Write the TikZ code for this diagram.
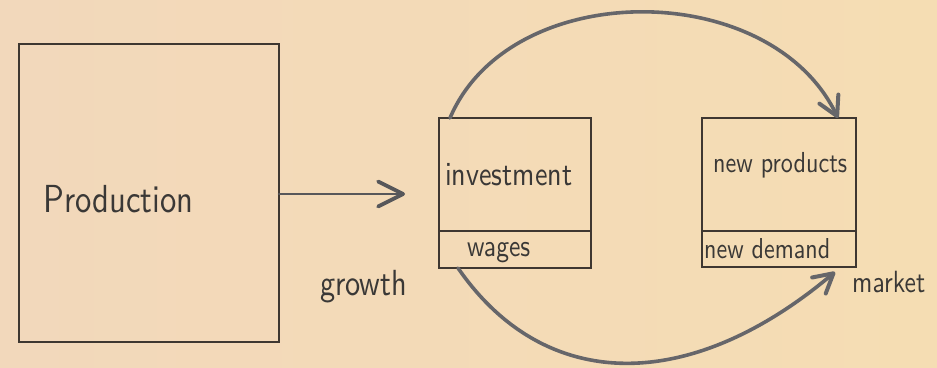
\documentclass[tikz,border=0pt]{standalone}
\usetikzlibrary{arrows.meta}
\definecolor{paperL}{HTML}{F2D8BB}
\definecolor{paperR}{HTML}{F5DDB3}
\definecolor{boxline}{HTML}{3E3731}
\definecolor{arcgray}{HTML}{66666A}
\definecolor{ink}{HTML}{3A3836}
\newcommand{\fitw}[2]{\resizebox{#1}{!}{\scalebox{1}[1.2]{\sffamily #2}}}
\begin{document}
\begin{tikzpicture}[x=1pt,y=-1pt,
  boxstyle/.style={draw=boxline,line width=1.2pt,rectangle,inner sep=0pt,outer sep=0pt},
  lbl/.style={anchor=base west,inner sep=0pt,text=ink},
  arcarrow/.style={draw=arcgray,line width=3.6pt,line cap=round,
    -{Straight Barb[length=19pt,width=21pt,line width=4pt,round]}},
  midarrow/.style={draw=arcgray!85!black,line width=2.6pt,line cap=round,
    -{Straight Barb[length=25pt,width=25pt,line width=3.8pt,round]}}
]
\useasboundingbox (0,0) rectangle (937,367);
\fill[left color=paperL,right color=paperR] (0,0) rectangle (937,367);

% boxes
\node[boxstyle,minimum width=260pt,minimum height=298pt] (prod) at (149,193) {};
\node[boxstyle,minimum width=152pt,minimum height=113pt] (inv) at (515,174.5) {};
\node[boxstyle,minimum width=152pt,minimum height=37pt] (wg) at (515,249.5) {};
\node[boxstyle,minimum width=154pt,minimum height=113pt] (np) at (779,174.5) {};
\node[boxstyle,minimum width=154pt,minimum height=36pt] (nd) at (779,249) {};

% labels
\node[lbl] (prodlbl) at (43,212) {\fitw{150pt}{Production}};
\node[lbl] (invlbl) at (445,185) {\fitw{127pt}{investment}};
\node[lbl] (wglbl) at (467,256) {\fitw{63pt}{wages}};
\node[lbl] (nplbl) at (713,172) {\fitw{134pt}{new products}};
\node[lbl] (ndlbl) at (704,258) {\fitw{126pt}{new demand}};
\node[lbl] (growth) at (320,295) {\fitw{87pt}{growth}};
\node[lbl] (market) at (852,292) {\fitw{73pt}{market}};

% connectors
\coordinate (midtip) at (405,194);
\draw[midarrow] ([yshift=-1pt]prod.east) -- (midtip);
\draw[arcarrow] ([xshift=11pt]inv.north west)
  .. controls (510,-23) and (770,-23) .. ([xshift=-18pt]np.north east);
\draw[arcarrow] ([xshift=19pt]wg.south west)
  .. controls (545,394) and (690,394) .. ([xshift=-21pt,yshift=-5pt]nd.south east);
\end{tikzpicture}
\end{document}
